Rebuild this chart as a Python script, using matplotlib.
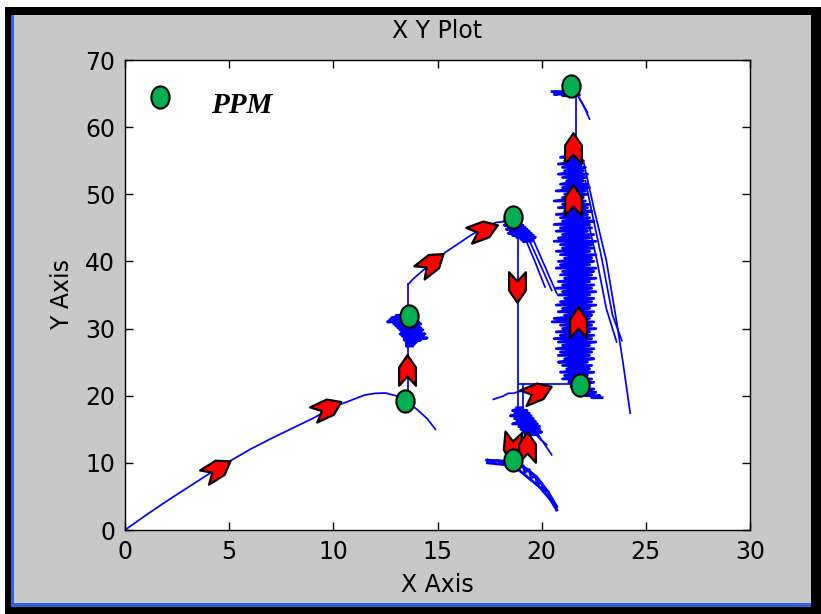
import matplotlib
matplotlib.use("Agg")
import matplotlib.pyplot as plt
from matplotlib.patches import Rectangle
from matplotlib.markers import MarkerStyle
from matplotlib.path import Path
from matplotlib.transforms import Affine2D

# ---------------- data ----------------
# initial rise from the origin
rise_x = [0, 1, 2, 3, 4, 5, 6, 7, 8, 9, 10, 11, 11.5, 12, 12.5, 13, 13.5, 14, 14.5, 14.9]
rise_y = [0, 2.2, 4.3, 6.3, 8.3, 10.2, 12.0, 13.6, 15.1, 16.6, 18.3, 19.5, 20.1, 20.35, 20.4, 20.0, 19.2, 18.0, 16.6, 15.0]

# first vertical step and the scatter around x = 13.6
step1_x = [13.6, 13.6]
step1_y = [19.2, 36.6]
clusterA_y = [32.2, 31.9, 31.6, 31.3, 31.0, 30.7, 30.4, 30.1, 29.8, 29.5, 29.2, 28.9, 28.6, 28.3, 28.0, 27.7, 27.4]
clusterA_l = [13.3, 13.0, 12.8, 12.7, 12.6, 12.9, 13.0, 13.1, 13.2, 13.3, 13.2, 13.3, 13.4, 13.4, 13.5, 13.5, 13.5]
clusterA_r = [13.9, 14.0, 13.9, 14.0, 14.1, 14.2, 14.1, 14.2, 14.3, 14.2, 14.4, 14.3, 14.5, 14.2, 14.0, 13.9, 13.8]

# second rise towards x = 18.6
rise2_x = [13.6, 13.8, 14.5, 15.4, 16.6, 17.1, 17.8, 18.4, 18.7]
rise2_y = [36.6, 37.3, 39.2, 41.4, 43.9, 44.8, 45.8, 46.0, 46.1]

# scatter near the second peak
clusterB_y = [46.0, 45.7, 45.4, 45.1, 44.8, 44.5, 44.2, 43.9, 43.6, 43.3, 43.0]
clusterB_l = [18.2, 18.3, 18.2, 18.4, 18.3, 18.5, 18.4, 18.6, 18.8, 19.0, 19.1]
clusterB_r = [18.9, 19.0, 19.1, 19.2, 19.3, 19.4, 19.5, 19.6, 19.7, 19.6, 19.5]
tailB1_x = [19.28, 19.7, 20.16]
tailB1_y = [42.9, 39.8, 36.2]
tailB2_x = [19.44, 19.95, 20.48]
tailB2_y = [42.9, 39.4, 35.7]
tailB3_x = [19.6, 20.15, 20.72]
tailB3_y = [43.2, 39.3, 35.25]

# drop back down at x = 18.85
drop_x = [18.85, 18.85]
drop_y = [46.0, 16.8]
drop2_x = [19.1, 19.1]
drop2_y = [21.8, 16.2]
wave_x = [17.68, 18.16, 18.4, 18.64, 18.88, 19.05]
wave_y = [19.46, 19.95, 20.36, 20.36, 20.6, 20.7]
link_x = [18.85, 21.8]
link_y = [21.8, 21.8]

# lower scatter below the drop
clusterC_y = [18.2, 17.8, 17.4, 17.0, 16.6, 16.2, 15.8, 15.4, 15.0, 14.6, 14.2]
clusterC_l = [18.8, 18.6, 18.7, 18.5, 18.7, 18.8, 18.6, 18.9, 19.0, 19.1, 19.2]
clusterC_r = [19.1, 19.3, 19.4, 19.5, 19.6, 19.7, 19.8, 19.9, 19.9, 20.0, 19.8]
tailC1_x = [19.6, 20.0, 20.48]
tailC1_y = [15.5, 13.4, 11.2]
tailC2_x = [19.5, 19.9, 20.24]
tailC2_y = [15.0, 13.6, 12.7]

# band running from (17.4, 10.4) down to (20.7, 3)
band_x = [17.4, 17.5, 17.9, 18.0, 18.4, 18.5, 18.8, 18.9, 19.1, 19.2, 19.4, 19.5,
          19.7, 19.8, 20.0, 20.1, 20.3, 20.4, 20.5, 20.6, 20.7, 20.72]
band_y = [10.4, 10.0, 10.35, 9.9, 10.25, 9.6, 10.1, 9.2, 9.6, 8.6, 9.0, 7.8,
          8.0, 6.9, 7.0, 5.8, 5.8, 4.6, 4.6, 3.6, 3.4, 3.0]
bandedge_x = [17.36, 18.63, 19.2, 19.76, 20.3, 20.72]
bandedge_y = [10.4, 10.2, 9.3, 7.9, 5.7, 3.5]
bandlow_x = [17.4, 18.3, 18.8, 19.9, 20.4, 20.72]
bandlow_y = [10.0, 9.7, 9.2, 6.4, 4.6, 3.0]

# main scatter column around x = 21.6
clusterE_y = [56.0, 55.5, 55.0, 54.5, 54.0, 53.5, 53.0, 52.5, 52.0, 51.5, 51.0, 50.5,
              50.0, 49.5, 49.0, 48.5, 48.0, 47.5, 47.0, 46.5, 46.0, 45.5, 45.0, 44.5,
              44.0, 43.5, 43.0, 42.5, 42.0, 41.5, 41.0, 40.5, 40.0, 39.5, 39.0, 38.5,
              38.0, 37.5, 37.0, 36.5, 36.0, 35.5, 35.0, 34.5, 34.0, 33.5, 33.0, 32.5,
              32.0, 31.5, 31.0, 30.5, 30.0, 29.5, 29.0, 28.5, 28.0, 27.5, 27.0, 26.5,
              26.0, 25.5, 25.0, 24.5, 24.0, 23.5, 23.0, 22.5, 22.0, 21.5, 21.0, 20.5,
              20.0, 19.7]
clusterE_l = [21.2, 20.9, 21.1, 20.8, 21.0, 21.1, 20.8, 21.0, 21.2, 20.9, 21.0, 20.7,
              21.1, 21.0, 20.6, 21.0, 20.8, 21.1, 20.7, 20.9, 21.0, 20.6, 20.9, 20.7,
              21.0, 20.8, 20.6, 20.9, 21.0, 20.7, 20.9, 21.1, 20.8, 20.9, 20.7, 21.0,
              20.9, 21.1, 20.8, 21.0, 20.7, 21.0, 20.8, 21.1, 20.9, 20.7, 21.0, 20.8,
              21.1, 20.6, 20.5, 20.9, 21.0, 20.7, 20.9, 20.6, 20.8, 21.0, 20.7, 20.9,
              20.8, 21.1, 20.8, 21.0, 21.2, 20.9, 21.1, 21.0, 21.3, 21.5, 21.7, 21.9,
              22.1, 22.4]
clusterE_r = [21.8, 21.9, 22.0, 21.9, 22.1, 22.0, 22.2, 22.1, 22.0, 22.2, 22.3, 22.1,
              22.2, 22.0, 22.1, 22.3, 22.2, 22.4, 22.2, 22.3, 22.5, 22.3, 22.4, 22.2,
              22.5, 22.3, 22.6, 22.4, 22.5, 22.3, 22.6, 22.4, 22.5, 22.3, 22.6, 22.5,
              22.4, 22.6, 22.3, 22.5, 22.4, 22.6, 22.3, 22.5, 22.4, 22.6, 22.3, 22.5,
              22.4, 22.3, 22.5, 22.4, 22.6, 22.3, 22.5, 22.4, 22.6, 22.3, 22.5, 22.4,
              22.3, 22.5, 22.2, 22.4, 22.3, 22.5, 22.2, 22.4, 22.5, 22.3, 22.5, 22.6,
              22.8, 22.9]
# solid core of the column
coreE_x = [21.35, 21.45, 21.55, 21.65, 21.75, 21.85]
coreE_top = [55.5, 56.0, 56.0, 56.0, 55.5, 55.0]
coreE_bot = [22.5, 21.5, 21.0, 21.0, 20.5, 20.5]
tailE1_x = [22.0, 22.5, 23.1, 23.6, 23.9, 24.25]
tailE1_y = [55.0, 48.0, 40.2, 31.0, 25.0, 17.4]
tailE2_x = [22.1, 22.5, 22.9, 23.4, 23.85]
tailE2_y = [52.0, 46.0, 40.2, 32.0, 28.2]
tailE3_x = [22.0, 22.65, 23.1, 23.6]
tailE3_y = [49.0, 40.2, 33.0, 28.0]

# final step to the top
top_x = [21.65, 21.65]
top_y = [56.5, 64.9]
topstroke_x = [20.5, 21.6, 20.6, 21.7, 21.0, 21.8]
topstroke_y = [65.3, 65.3, 64.9, 65.0, 64.7, 64.8]
toptail1_x = [21.7, 21.9, 22.1, 22.3]
toptail1_y = [64.9, 63.8, 62.6, 61.2]
toptail2_x = [21.75, 22.0, 22.2]
toptail2_y = [64.6, 63.3, 62.2]

# direction arrows: position and heading (degrees, counter-clockwise from +x)
arrow_x = [4.42, 9.7, 13.55, 14.67, 17.2, 18.82, 19.76, 18.56, 19.28, 21.74, 21.52, 21.52]
arrow_y = [9.1, 18.2, 23.8, 39.7, 44.7, 36.2, 20.6, 12.4, 12.4, 31.0, 49.15, 56.85]
arrow_dir = [32, 25, 90, 38, 20, -90, 22, -95, 90, 90, 90, 90]

# PPM points
ppm_x = [13.44, 13.63, 18.63, 18.63, 21.84, 21.41]
ppm_y = [19.2, 31.9, 46.6, 10.4, 21.6, 66.1]

x_ticks = [0, 5, 10, 15, 20, 25, 30]
y_ticks = [0, 10, 20, 30, 40, 50, 60, 70]


def zigzag(ys, xl, xr):
    xs, yy = [], []
    for y, a, b in zip(ys, xl, xr):
        xs += [a, b]
        yy += [y, y]
    return xs, yy


# ---------------- figure ----------------
W, H = 821, 614
fig = plt.figure(figsize=(W / 100, H / 100), dpi=100, facecolor="white")
FONT = ["DejaVu Sans"]


def frame_rect(x0, y0, x1, y1, color):
    fig.add_artist(Rectangle((x0 / W, 1 - y1 / H), (x1 - x0) / W, (y1 - y0) / H,
                             transform=fig.transFigure, facecolor=color,
                             edgecolor="none", zorder=-10))


frame_rect(5, 7, 821, 614, "black")
frame_rect(11, 15, 811, 607, "#2a64d8")
frame_rect(14, 15, 811, 603, "#c8c8c8")

L, R, T, B = 125, 750, 60, 530
ax = fig.add_axes([L / W, 1 - B / H, (R - L) / W, (B - T) / H])
ax.set_facecolor("white")
ax.set_xlim(0, 30)
ax.set_ylim(0, 70)
ax.set_xticks(x_ticks)
ax.set_yticks(y_ticks)
ax.tick_params(direction="in", length=6, width=1, top=True, right=True,
               labelsize=17, pad=7, colors="black")
for lab in ax.get_xticklabels() + ax.get_yticklabels():
    lab.set_family(FONT)
for s in ax.spines.values():
    s.set_linewidth(1.0)
    s.set_color("black")

ax.set_title("X Y Plot", fontsize=17, family=FONT, pad=16)
ax.set_xlabel("X Axis", fontsize=17, family=FONT)
ax.set_ylabel("Y Axis", fontsize=17, family=FONT)
ax.xaxis.set_label_coords(0.5, -0.117)
ax.xaxis.label.set_va("center")
ax.yaxis.set_label_coords(-0.10, 0.5)
ax.yaxis.label.set_va("center")

blue = (0, 0, 1)
thin_sets = [
    (rise_x, rise_y), (step1_x, step1_y), (rise2_x, rise2_y),
    (tailB1_x, tailB1_y), (tailB2_x, tailB2_y), (tailB3_x, tailB3_y),
    (drop_x, drop_y), (drop2_x, drop2_y), (wave_x, wave_y), (link_x, link_y),
    (tailC1_x, tailC1_y), (tailC2_x, tailC2_y),
    (tailE1_x, tailE1_y), (tailE2_x, tailE2_y), (tailE3_x, tailE3_y),
    (top_x, top_y), (toptail1_x, toptail1_y), (toptail2_x, toptail2_y),
]
for xs, ys in thin_sets:
    ax.plot(xs, ys, color=blue, lw=1.25, zorder=2)

dense_sets = [
    zigzag(clusterA_y, clusterA_l, clusterA_r),
    zigzag(clusterB_y, clusterB_l, clusterB_r),
    zigzag(clusterC_y, clusterC_l, clusterC_r),
    (band_x, band_y), (bandedge_x, bandedge_y), (bandlow_x, bandlow_y),
    zigzag(clusterE_y, clusterE_l, clusterE_r),
    (topstroke_x, topstroke_y),
]
for xs, ys in dense_sets:
    ax.plot(xs, ys, color=blue, lw=2.0, zorder=2)
for x, t, b in zip(coreE_x, coreE_top, coreE_bot):
    ax.plot([x, x], [t, b], color=blue, lw=3.0, zorder=2)

# chevron arrow marker pointing up
chevron = Path([(0, 1), (0.55, 0.2), (0.55, -1), (0, -0.4), (-0.55, -1),
                (-0.55, 0.2), (0, 1)], closed=True)
for x, y, d in zip(arrow_x, arrow_y, arrow_dir):
    m = MarkerStyle(chevron).rotated(deg=d - 90)
    ax.plot([x], [y], ls="none", marker=m, ms=22, mfc="red", mec="black",
            mew=1.6, zorder=4)

# slightly tall ellipse marker for PPM points
ellipse = Affine2D().scale(0.82, 1.0).transform_path(Path.unit_circle())
ax.plot(ppm_x, ppm_y, ls="none", marker=MarkerStyle(ellipse), ms=16,
        mfc="#00b050", mec="black", mew=1.5, zorder=5)

# legend entry
ax.plot([1.68], [64.5], ls="none", marker=MarkerStyle(ellipse), ms=16,
        mfc="#00b050", mec="black", mew=1.5, zorder=5)
ax.text(4.15, 63.2, "PPM", fontsize=21, family=["Liberation Serif", "DejaVu Serif"],
        style="italic", weight="bold", va="center", ha="left")

fig.savefig("out.png", dpi=100, facecolor=fig.get_facecolor())
